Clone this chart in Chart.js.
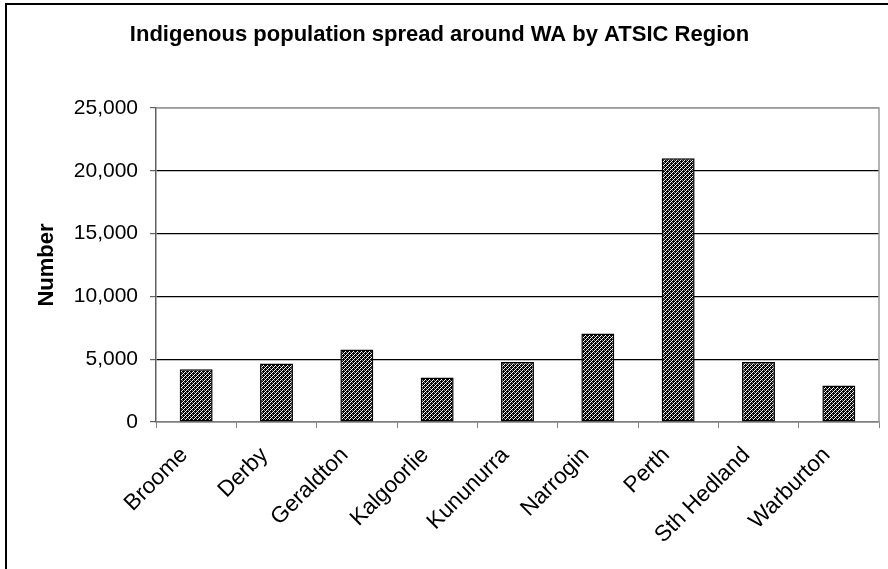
<!DOCTYPE html>
<html>
<head>
<meta charset="utf-8">
<script src="https://cdn.jsdelivr.net/npm/chart.js@4/dist/chart.umd.min.js"></script>
<style>
  html, body { margin: 0; padding: 0; background: #fff; }
  #wrap { width: 888px; height: 569px; }
</style>
</head>
<body>
<div id="wrap"><canvas id="c" width="888" height="569"></canvas></div>
<script>
// ATSIC regions and their Indigenous population counts
const regions = ['Broome', 'Derby', 'Geraldton', 'Kalgoorlie', 'Kununurra', 'Narrogin', 'Perth', 'Sth Hedland', 'Warburton'];
const population = [4200, 4650, 5780, 3550, 4780, 7050, 21000, 4780, 2900];
const yTicks = [0, 5000, 10000, 15000, 20000, 25000];

const chartTitle = 'Indigenous population spread around WA by ATSIC Region';
const yTitle = 'Number';

// Small speckled fill tile for the bars
function makeSpeckle() {
  const W = '#fff', B = '#000', G = '#8a8a8a';
  const grid = [
    [W, B, G, B],
    [B, B, B, W],
    [G, B, W, B],
    [B, W, B, B]
  ];
  const t = document.createElement('canvas');
  t.width = 4; t.height = 4;
  const g = t.getContext('2d');
  for (let y = 0; y < 4; y++) for (let x = 0; x < 4; x++) {
    g.fillStyle = grid[y][x];
    g.fillRect(x, y, 1, 1);
  }
  return document.getElementById('c').getContext('2d').createPattern(t, 'repeat');
}

// White page, outer chart frame, and the grey top/right edge of the plot area
const framePlugin = {
  id: 'frame',
  beforeDraw(chart) {
    const ctx = chart.ctx;
    ctx.save();
    ctx.fillStyle = '#fff';
    ctx.fillRect(0, 0, chart.width, chart.height);
    ctx.strokeStyle = '#000';
    ctx.lineWidth = 2;
    ctx.strokeRect(6, 4, chart.width + 20, chart.height + 20);
    ctx.restore();
  },
  afterDatasetsDraw(chart) {
    const a = chart.chartArea;
    const ctx = chart.ctx;
    ctx.save();
    ctx.strokeStyle = '#9a9a9a';
    ctx.lineWidth = 1.5;
    ctx.beginPath();
    ctx.moveTo(a.left, a.top);
    ctx.lineTo(a.right, a.top);
    ctx.lineTo(a.right, a.bottom);
    ctx.stroke();
    ctx.restore();
  }
};

const FONT = "'Liberation Sans', Arial, sans-serif";

new Chart(document.getElementById('c'), {
  type: 'bar',
  data: {
    labels: regions,
    datasets: [{
      data: population,
      backgroundColor: makeSpeckle(),
      borderColor: '#000',
      borderWidth: 1.5,
      borderSkipped: false,
      barPercentage: 0.41,
      categoryPercentage: 1.0
    }]
  },
  options: {
    responsive: false,
    animation: false,
    devicePixelRatio: 1,
    layout: { padding: { left: 0, right: 9, top: 4, bottom: 0 } },
    plugins: {
      legend: { display: false },
      tooltip: { enabled: false },
      title: {
        display: true,
        text: chartTitle,
        color: '#000',
        font: { family: FONT, size: 22, weight: 'bold' },
        padding: { top: 18, bottom: 59.6 }
      }
    },
    scales: {
      x: {
        offset: true,
        afterFit: s => { s.height = 147; },
        grid: {
          offset: true,
          drawOnChartArea: false,
          drawTicks: true,
          tickLength: 6,
          color: '#808080',
          lineWidth: 1
        },
        border: { display: true, color: '#808080', width: 1.5 },
        ticks: {
          color: '#000',
          font: { family: FONT, size: 22.5 },
          maxRotation: 45,
          minRotation: 45,
          autoSkip: false,
          labelOffset: -12,
          padding: 14
        }
      },
      y: {
        min: 0,
        max: 25000,
        afterFit: s => { s.width = 156; },
        afterBuildTicks: s => { s.ticks = yTicks.map(v => ({ value: v })); },
        grid: {
          color: ctx => (ctx.tick && ctx.tick.value === 25000) ? '#9a9a9a' : '#000',
          lineWidth: 1.2,
          tickLength: 6,
          tickColor: '#606060'
        },
        border: { display: true, color: '#606060', width: 1.5 },
        ticks: {
          color: '#000',
          font: { family: FONT, size: 21 },
          padding: 12,
          callback: v => v.toLocaleString('en-US')
        },
        title: {
          display: true,
          text: yTitle,
          color: '#000',
          font: { family: FONT, size: 22, weight: 'bold' },
          padding: { top: 34, bottom: 0 }
        }
      }
    }
  },
  plugins: [framePlugin]
});
</script>
</body>
</html>
